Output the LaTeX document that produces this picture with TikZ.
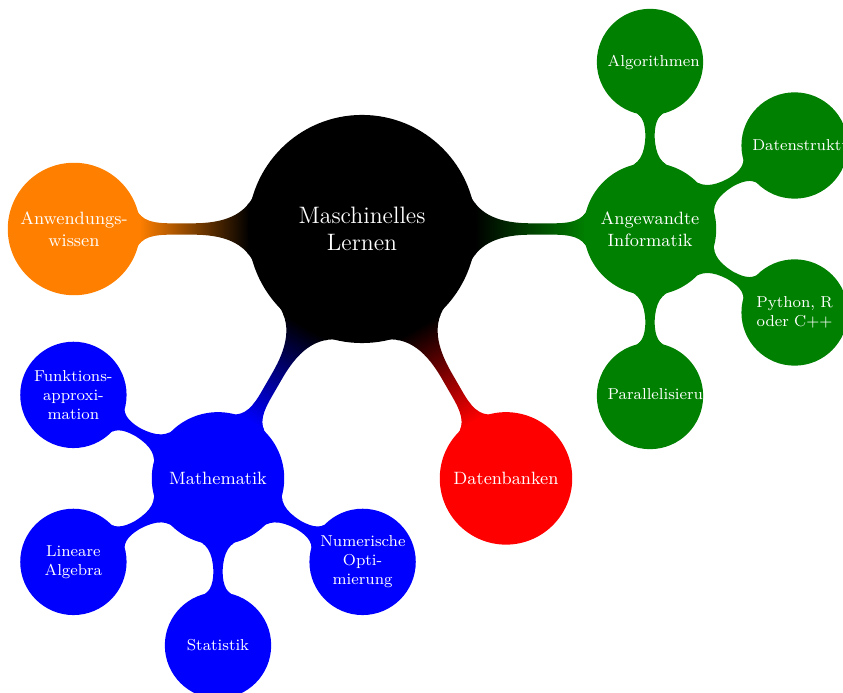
\documentclass[tikz,border=0pt]{standalone}
\usetikzlibrary{mindmap,backgrounds}
\begin{document}
\begin{tikzpicture}[x=0.505pt,y=0.505pt,mindmap,
  rootc/.style={concept,concept color=black,text=white,minimum size=114pt,text width=3.5cm,inner sep=0pt,align=center,font=\large},
  lone/.style={concept,concept color=#1,text=white,minimum size=65.7pt,text width=2cm,inner sep=0pt,align=center,font=\small},
  ltwo/.style={concept,concept color=#1,text=white,minimum size=52.5pt,text width=1.5cm,inner sep=0pt,align=center,font=\footnotesize},
  link/.style args={#1/#2}{circle connection bar switch color=from (#1) to (#2)}
]
\colorlet{dgreen}{green!50!black}
\useasboundingbox (0,0) rectangle (843,693);
\node[rootc] (root) at (362,464) {Maschinelles\\Lernen};
\node[lone=orange] (anw) at (74,464) {Anwendungs-\\wissen};
\node[lone=dgreen] (ang) at (650,464) {Angewandte\\Informatik};
\node[lone=red] (dat) at (506,214.6) {Datenbanken};
\node[lone=blue] (mat) at (218,214.6) {Mathematik};
\node[ltwo=dgreen] (alg) at (650,631) {\mbox{Algorithmen}};
\node[ltwo=dgreen] (dst) at (794.6,547.5) {\mbox{Datenstrukturen}};
\node[ltwo=dgreen] (pyt) at (794.6,380.5) {Python, R\\oder C++};
\node[ltwo=dgreen] (par) at (650,297) {\mbox{Parallelisierung}};
\node[ltwo=blue] (fun) at (73.4,298.1) {Funktions-\\approxi-\\mation};
\node[ltwo=blue] (lin) at (73.4,131.1) {Lineare\\Algebra};
\node[ltwo=blue] (sta) at (218,47.6) {Statistik};
\node[ltwo=blue] (num) at (362.6,131.1) {Numerische\\Opti-\\mierung};
\begin{pgfonlayer}{background}
\path (root) to[link=black/orange] (anw);
\path (root) to[link=black/dgreen] (ang);
\path (root) to[link=black/red] (dat);
\path (root) to[link=black/blue] (mat);
\path (ang) to[link=dgreen/dgreen] (alg);
\path (ang) to[link=dgreen/dgreen] (dst);
\path (ang) to[link=dgreen/dgreen] (pyt);
\path (ang) to[link=dgreen/dgreen] (par);
\path (mat) to[link=blue/blue] (fun);
\path (mat) to[link=blue/blue] (lin);
\path (mat) to[link=blue/blue] (sta);
\path (mat) to[link=blue/blue] (num);
\end{pgfonlayer}
\end{tikzpicture}
\end{document}
